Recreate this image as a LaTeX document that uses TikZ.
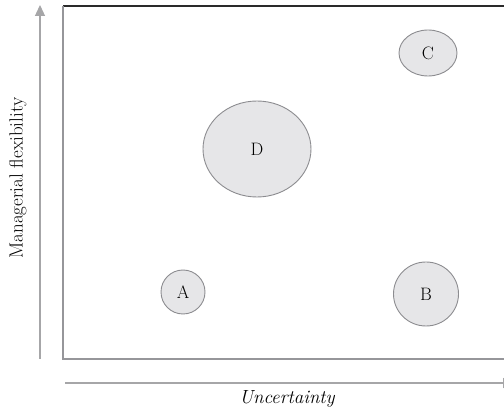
\documentclass[tikz,border=0pt]{standalone}
\usepackage{tikz}
\usepackage{xcolor}
\usetikzlibrary{positioning, arrows.meta, shapes.geometric}
\definecolor{cAxis}  {HTML}{A6A6A8}
\definecolor{cFrame} {HTML}{96969A}
\definecolor{cTop}   {HTML}{2A2A2A}
\definecolor{cFill}  {HTML}{E6E6E8}
\definecolor{cEdge}  {HTML}{8C8C90}
\tikzset{
  bubble/.style={ellipse, draw=cEdge, fill=cFill, line width=0.9pt,
    inner sep=0pt, font=\fontsize{18}{20}\selectfont},
  axislabel/.style={font=\fontsize{19}{21}\selectfont},
}
\begin{document}
\begin{tikzpicture}[x=1pt, y=-1pt]
        \useasboundingbox (0, 0) rectangle (504, 414);
        % frame
        \coordinate (tl) at (63, 6);
        \coordinate (tr) at (504, 6);
        \coordinate (bl) at (63, 359);
        \coordinate (br) at (504, 359);
        \draw[cTop, line width=1.3pt] (tl) -- (tr);
        \draw[cFrame, line width=2.4pt] (tl) -- (bl) -- (br);
        % axes
        \coordinate (ylow) at (40, 359);
        \coordinate (yhigh) at (40, 5);
        \coordinate (xlow) at (65, 383);
        \coordinate (xhigh) at (514, 383);
        \draw[cAxis, line width=1.3pt, -{Triangle[length=11pt, width=10pt]}] (ylow) -- (yhigh);
        \draw[cAxis, line width=1.3pt, -{Triangle[length=11pt, width=10pt]}] (xlow) -- (xhigh);
        \node[axislabel, font=\fontsize{19}{21}\selectfont\itshape] (xlab) at (287, 399) {Uncertainty};
        \node[axislabel, rotate=90] (ylab) at (18, 178) {Managerial flexibility};
        % options
        \node[bubble, minimum width=44pt, minimum height=44pt] (optA) at (183, 292) {A};
        \node[bubble, minimum width=65pt, minimum height=64pt] (optB) at (426, 294) {B};
        \node[bubble, minimum width=58pt, minimum height=46pt] (optC) at (428, 53) {C};
        \node[bubble, minimum width=108pt, minimum height=96pt] (optD) at (257, 149) {D};
      \end{tikzpicture}
\end{document}
